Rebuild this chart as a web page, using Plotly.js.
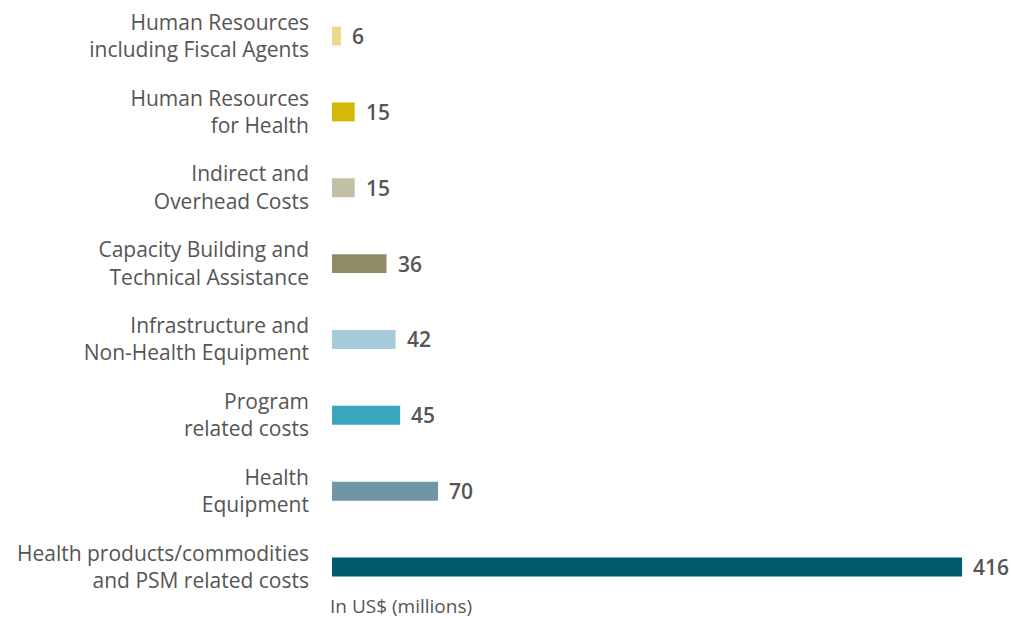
<!DOCTYPE html>
<html>
<head>
<meta charset="utf-8">
<script src="https://cdn.plot.ly/plotly-3.0.1.min.js"></script>
<style>html,body{margin:0;padding:0;background:#fff;}#chart{width:1011px;height:619px;}</style>
</head>
<body>
<div id="chart"></div>
<script>
var categories = [
  "Health products/commodities<br>and PSM related costs",
  "Health<br>Equipment",
  "Program<br>related costs",
  "Infrastructure and<br>Non-Health Equipment",
  "Capacity Building and<br>Technical Assistance",
  "Indirect and<br>Overhead Costs",
  "Human Resources<br>for Health",
  "Human Resources<br>including Fiscal Agents"
];
var values = [416, 70, 45, 42, 36, 15, 15, 6];
var colors = ["#005C6D", "#7095A4", "#3BA5BF", "#A6CBDA", "#908C66", "#C2BFA6", "#D4B80A", "#EAD98F"];
var unitLabel = "In US$ (millions)";

var trace = {
  type: "bar",
  orientation: "h",
  y: categories,
  x: values,
  marker: {color: colors},
  width: 0.25,
  hoverinfo: "x+y"
};

var annotations = values.map(function (v, i) {
  return {
    x: v, y: categories[i], xref: "x", yref: "y",
    text: String(v), showarrow: false,
    xanchor: "left", yanchor: "middle", xshift: 9,
    font: {family: "Open Sans, sans-serif", size: 21, color: "#555555", weight: 600}
  };
});
annotations.push({
  x: 0, y: 0, xref: "x", yref: "paper",
  text: unitLabel, showarrow: false,
  xanchor: "left", yanchor: "middle", xshift: -4, yshift: -1,
  font: {family: "Open Sans, sans-serif", size: 19, color: "#555555"}
});

var layout = {
  width: 1011, height: 619,
  margin: {l: 332, r: 5, t: 10, b: 14},
  paper_bgcolor: "#ffffff", plot_bgcolor: "#ffffff",
  showlegend: false,
  xaxis: {range: [0, 445], visible: false, fixedrange: true},
  yaxis: {
    type: "category",
    categoryorder: "array", categoryarray: categories,
    range: [-0.5, 7.343],
    showgrid: false, zeroline: false, showline: false, ticks: "",
    ticklabelstandoff: 22,
    tickfont: {family: "Open Sans, sans-serif", size: 21, color: "#555555"}
  },
  annotations: annotations
};

Plotly.newPlot("chart", [trace], layout, {displayModeBar: false, staticPlot: true});
</script>
</body>
</html>
